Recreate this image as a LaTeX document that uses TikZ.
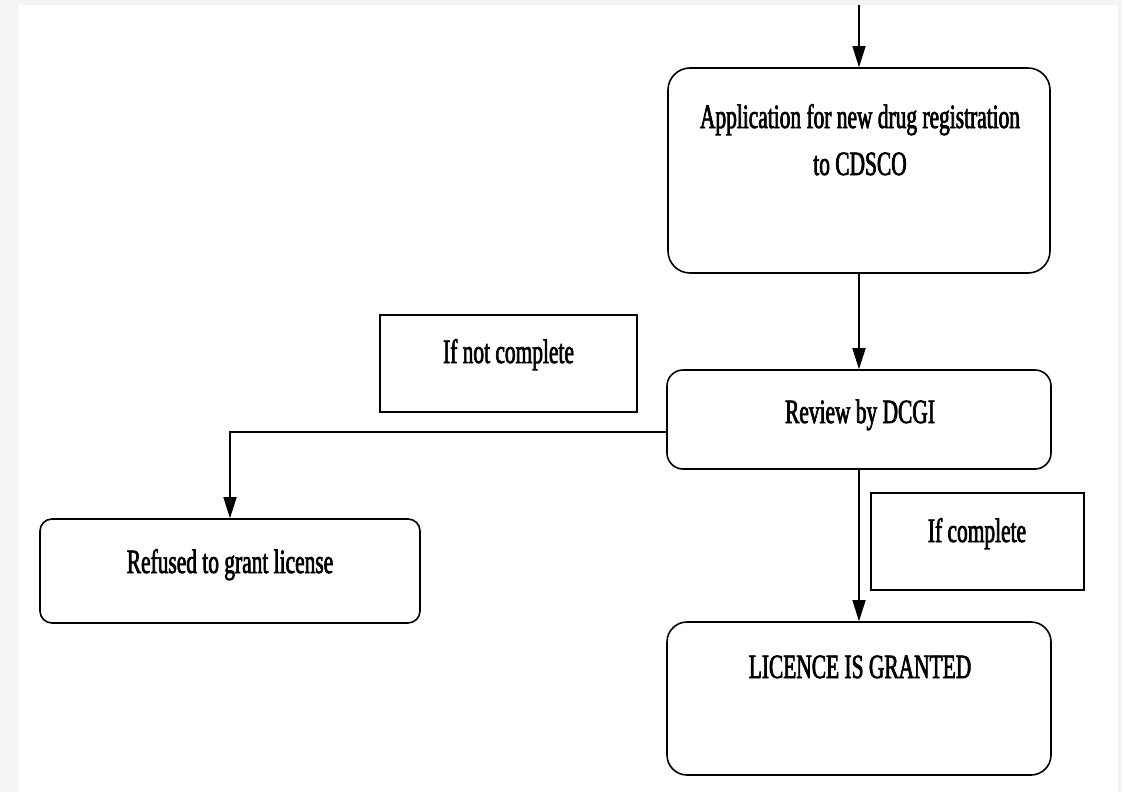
\documentclass[tikz,border=0pt]{standalone}
\usepackage{fontspec}
\setmainfont[FakeStretch=0.63,FakeBold=2]{Liberation Serif}
\usetikzlibrary{arrows.meta}
\definecolor{pagegray}{RGB}{243,244,246}
\tikzset{
  box/.style={draw, line width=1.6pt, rounded corners=16pt, inner sep=0pt},
  note/.style={draw, line width=1.6pt, inner sep=0pt},
  lbl/.style={font=\fontsize{34}{47}\selectfont, anchor=base, align=center,
    inner sep=0pt},
  flow/.style={-{Triangle[length=21pt,width=13pt]}, line width=1.4pt}
}

\begin{document}
\begin{tikzpicture}[x=1pt, y=-1pt]
  \fill[pagegray] (0,0) rectangle (1122,792);
  \fill[white] (19,5) rectangle (1118,792);
  \useasboundingbox (0,0) rectangle (1122,792);

  % main column
  \node[box, rounded corners=22pt, minimum width=382pt, minimum height=205pt]
    at (859, 170.5) (app) {};
  \node[lbl] at (860, 175) (apptxt)
    {Application for new drug registration\\to CDSCO};

  \node[box, minimum width=384pt, minimum height=99pt]
    at (859, 419.5) (review) {};
  \node[lbl] at (860, 423) (reviewtxt) {Review by DCGI};

  \node[box, rounded corners=20pt, minimum width=384pt, minimum height=153pt]
    at (859, 698.5) (licence) {};
  \node[lbl] at (860, 678) (licencetxt) {LICENCE IS GRANTED};

  % side branch
  \node[box, rounded corners=12pt, minimum width=380pt, minimum height=104pt]
    at (230, 571) (refused) {};
  \node[lbl] at (230, 573) (refusedtxt) {Refused to grant license};

  % condition notes
  \node[note, minimum width=257pt, minimum height=97pt]
    at (508.5, 363.5) (notc) {};
  \node[lbl] at (508.5, 363) (notctxt) {If not complete};

  \node[note, minimum width=213pt, minimum height=97pt]
    at (977.5, 541.5) (compl) {};
  \node[lbl] at (977, 542) (compltxt) {If complete};

  \coordinate (entry) at (859, 5);
  \draw[flow] (entry) -- (app);
  \draw[flow] (app) -- (review);
  \draw[flow] (review) -- (licence);
  \draw[flow] ([yshift=-12.5pt]review.west) -| (refused.north);
\end{tikzpicture}
\end{document}
